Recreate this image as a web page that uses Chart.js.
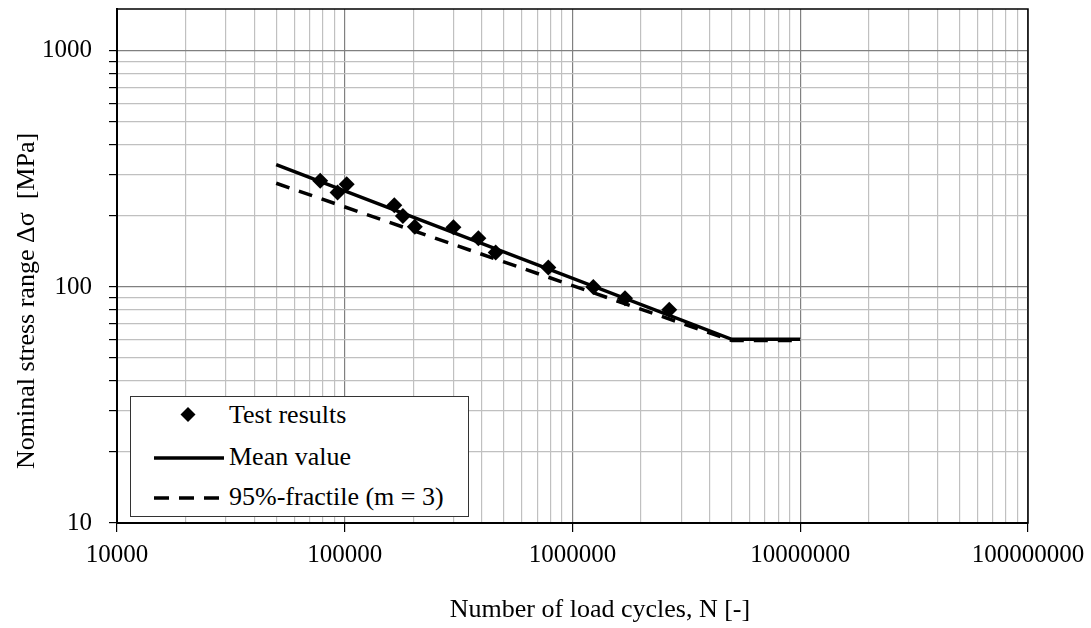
<!DOCTYPE html>
<html lang="en">
<head>
    <meta charset="UTF-8">
    <title>S-N curve</title>
    <script src="https://cdn.jsdelivr.net/npm/chart.js"></script>
    <style>
        body {
            margin: 0;
            padding: 0;
            background: #fff;
        }
        #wrap {
            position: relative;
            width: 1091px;
            height: 628px;
        }
        #legend {
            position: absolute;
            left: 130px;
            top: 396px;
            width: 337px;
            height: 119px;
            border: 1px solid #333;
            background: #fff;
            font-family: "Liberation Serif", "Times New Roman", serif;
            font-size: 26px;
            color: #000;
        }
        #legend svg {
            position: absolute;
            left: 0;
            top: 0;
        }
        #legend .item {
            position: absolute;
            left: 98px;
            line-height: 30px;
            white-space: nowrap;
        }
    </style>
</head>
<body>
    <div id="wrap">
        <canvas id="snChart" width="1091" height="628"></canvas>
        <div id="legend">
            <svg width="337" height="119">
                <polygon points="57,10 64.5,17.5 57,25 49.5,17.5" fill="#000"/>
                <line x1="23" y1="61" x2="93" y2="61" stroke="#000" stroke-width="3.5"/>
                <line x1="23" y1="101" x2="93" y2="101" stroke="#000" stroke-width="3.5" stroke-dasharray="15,10"/>
            </svg>
            <div class="item" style="top:3px">Test results</div>
            <div class="item" style="top:45px">Mean value</div>
            <div class="item" style="top:85px">95%-fractile (m = 3)</div>
        </div>
    </div>
    <script>
        // Test results (N, stress range)
        const testN = [78000, 93000, 102000, 165000, 180000, 203000, 300000, 386000, 460000, 783000, 1234000, 1700000, 2660000];
        const testS = [282, 251, 272, 222, 200, 180, 179, 161, 140, 121, 100, 89.5, 80];

        // Mean S-N line
        const meanN = [50000, 5000000, 10000000];
        const meanS = [330, 60, 60];

        // 95%-fractile line (m = 3)
        const fracN = [50000, 5000000, 10000000];
        const fracS = [275, 59.3, 59.3];

        const xTicks = [10000, 100000, 1000000, 10000000, 100000000];
        const yTicks = [10, 100, 1000];

        const serif = '"Liberation Serif", "Times New Roman", serif';

        const toXY = (xs, ys) => xs.map((x, i) => ({ x: x, y: ys[i] }));

        // log ticks 1..9 x 10^n between the given decades
        function logTicks(decades) {
            const out = [];
            for (let d = 0; d < decades.length; d++) {
                out.push({ value: decades[d], major: true });
                if (d < decades.length - 1) {
                    for (let k = 2; k <= 9; k++) out.push({ value: decades[d] * k, major: false });
                }
            }
            return out;
        }

        const isMajor = v => Math.abs(Math.log10(v) - Math.round(Math.log10(v))) < 1e-9;

        const frame = {
            id: 'frame',
            afterDraw(chart) {
                const { ctx, chartArea: a } = chart;
                ctx.save();
                ctx.strokeStyle = '#000';
                ctx.lineWidth = 1.5;
                ctx.strokeRect(a.left, a.top, a.right - a.left, a.bottom - a.top);
                // axis titles
                ctx.fillStyle = '#000';
                ctx.font = '26px ' + serif;
                ctx.textAlign = 'center';
                ctx.textBaseline = 'alphabetic';
                ctx.fillText('Number of load cycles, N [-]', 600, 617);
                ctx.translate(34, 301);
                ctx.rotate(-Math.PI / 2);
                ctx.fillText('Nominal stress range \u0394\u03c3  [MPa]', 0, 0);
                ctx.restore();
            }
        };

        const ctx = document.getElementById('snChart').getContext('2d');
        const snChart = new Chart(ctx, {
            type: 'scatter',
            data: {
                datasets: [{
                    label: 'Test results',
                    data: toXY(testN, testS),
                    pointStyle: 'rectRot',
                    pointRadius: 8,
                    backgroundColor: '#000',
                    borderColor: '#000',
                    borderWidth: 0,
                    showLine: false
                }, {
                    label: 'Mean value',
                    data: toXY(meanN, meanS),
                    showLine: true,
                    borderColor: '#000',
                    borderWidth: 3.5,
                    pointRadius: 0,
                    fill: false
                }, {
                    label: '95%-fractile (m = 3)',
                    data: toXY(fracN, fracS),
                    showLine: true,
                    borderColor: '#000',
                    borderWidth: 3.5,
                    borderDash: [14, 10],
                    pointRadius: 0,
                    fill: false
                }]
            },
            options: {
                responsive: false,
                animation: false,
                layout: { padding: { top: 9, right: 63, left: 0, bottom: 0 } },
                plugins: {
                    legend: { display: false },
                    tooltip: { enabled: false }
                },
                scales: {
                    x: {
                        type: 'logarithmic',
                        min: 10000,
                        max: 100000000,
                        afterFit: s => {
                            s.height = 105;
                            s.paddingLeft = 0;
                            s.paddingRight = 0;
                        },
                        afterBuildTicks: s => { s.ticks = logTicks(xTicks); },
                        border: { color: '#000', width: 2 },
                        grid: {
                            color: c => (c.tick && isMajor(c.tick.value)) ? '#808080' : '#c0c0c0',
                            tickColor: c => (c.tick && isMajor(c.tick.value)) ? '#000' : 'rgba(0,0,0,0)',
                            tickLength: 9,
                            lineWidth: 1.2
                        },
                        ticks: {
                            autoSkip: false,
                            maxRotation: 0,
                            padding: 8,
                            color: '#000',
                            font: { family: serif, size: 25 },
                            callback: v => isMajor(v) ? String(Math.round(v)) : ''
                        }
                    },
                    y: {
                        type: 'logarithmic',
                        min: 10,
                        max: 1505,
                        afterFit: s => {
                            s.width = 117;
                            s.paddingTop = 0;
                            s.paddingBottom = 0;
                        },
                        afterBuildTicks: s => { s.ticks = logTicks(yTicks); },
                        border: { color: '#000', width: 2 },
                        grid: {
                            color: c => (c.tick && isMajor(c.tick.value)) ? '#808080' : '#c0c0c0',
                            tickColor: '#000',
                            tickLength: 8,
                            lineWidth: 1.2
                        },
                        ticks: {
                            autoSkip: false,
                            padding: 17,
                            color: '#000',
                            font: { family: serif, size: 25 },
                            callback: v => isMajor(v) ? String(Math.round(v)) : ''
                        }
                    }
                }
            },
            plugins: [frame]
        });
    </script>
</body>
</html>
